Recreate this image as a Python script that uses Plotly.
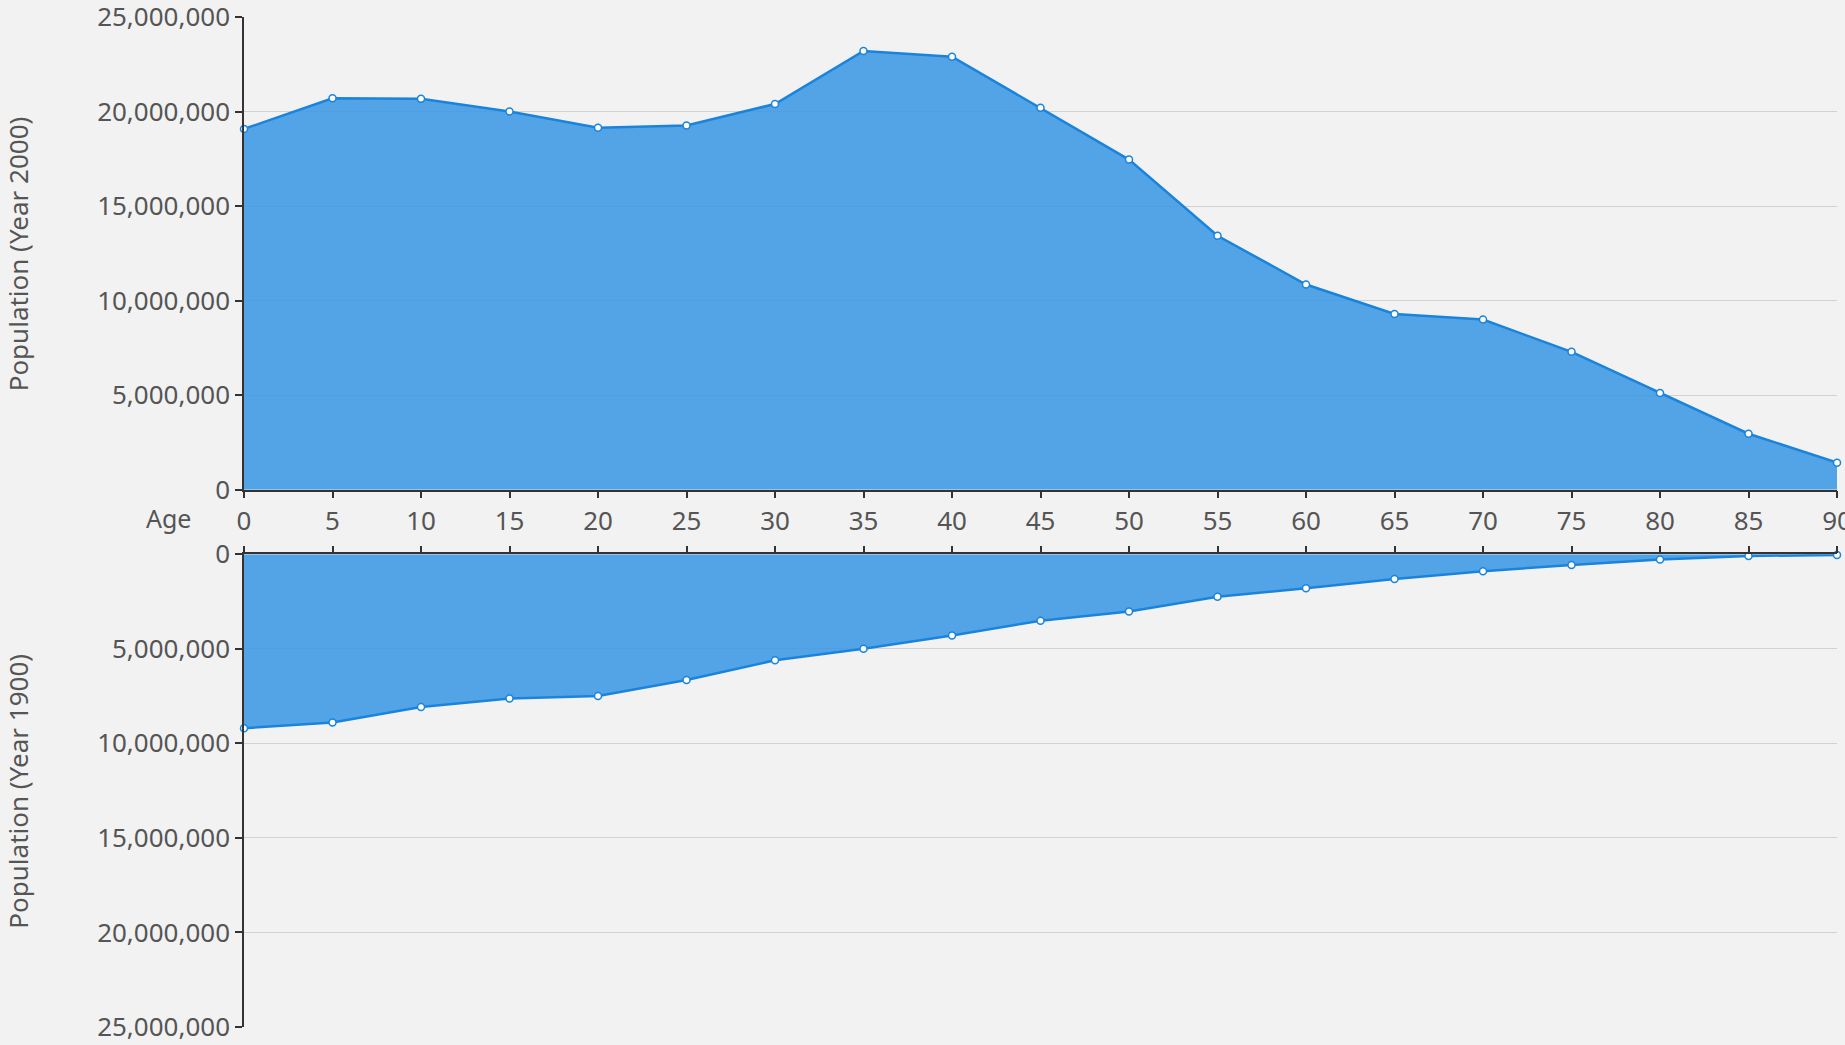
import plotly.graph_objects as go
from plotly.subplots import make_subplots

ages = [0, 5, 10, 15, 20, 25, 30, 35, 40, 45, 50, 55, 60, 65, 70, 75, 80, 85, 90]
pop_2000 = [19080000, 20700000, 20670000, 20000000, 19140000, 19260000, 20400000,
            23200000, 22900000, 20200000, 17460000, 13430000, 10850000, 9290000,
            9000000, 7290000, 5110000, 2960000, 1430000]
pop_1900 = [9200000, 8890000, 8080000, 7620000, 7490000, 6650000, 5600000,
            5000000, 4290000, 3510000, 3020000, 2240000, 1800000, 1310000,
            900000, 560000, 280000, 90000, 30000]
y_ticks = [0, 5000000, 10000000, 15000000, 20000000, 25000000]

FILL = 'rgba(60,152,228,0.88)'
LINE = '#1a84dc'
FONT = 'Noto Sans'
TXT = '#555555'

fig = make_subplots(rows=2, cols=1, shared_xaxes=False, vertical_spacing=0.064,
                    row_heights=[0.5, 0.5])

for row, vals in [(1, pop_2000), (2, pop_1900)]:
    fig.add_trace(go.Scatter(
        x=ages, y=vals,
        mode='lines+markers',
        fill='tozeroy',
        fillcolor=FILL,
        line=dict(color=LINE, width=2.5),
        marker=dict(size=7, color='white', line=dict(color=LINE, width=1.5)),
        showlegend=False,
        cliponaxis=False,
    ), row=row, col=1)

axis_common = dict(
    showline=True, linecolor='#333333', linewidth=1.5,
    ticks='outside', tickcolor='#333333', ticklen=7, tickwidth=1.5,
    tickfont=dict(family=FONT, size=26, color=TXT),
    automargin=False, ticklabeloverflow='allow',
)

fig.update_xaxes(range=[0, 90], tickvals=ages, showgrid=False, zeroline=False,
                 **axis_common)
fig.update_xaxes(side='bottom', row=1, col=1)
fig.update_xaxes(side='top', showticklabels=False, row=2, col=1)

fig.update_yaxes(tickvals=y_ticks, tickformat=',d', showgrid=True,
                 gridcolor='#d2d2d2', gridwidth=1, zeroline=False, **axis_common)
fig.update_yaxes(range=[0, 25000000], row=1, col=1)
fig.update_yaxes(range=[25000000, 0], row=2, col=1)

fig.update_layout(
    width=1845, height=1045,
    margin=dict(l=244, r=8, t=17, b=18, autoexpand=False),
    paper_bgcolor='#f2f2f2',
    plot_bgcolor='#f2f2f2',
    font=dict(family=FONT, color=TXT),
)
fig.update_layout(yaxis=dict(domain=[0.532, 1.0]), yaxis2=dict(domain=[0.0, 0.468]))

pw = 1845 - 244 - 8
for label, yc in [('Population (Year 2000)', 0.766), ('Population (Year 1900)', 0.234)]:
    fig.add_annotation(text=label, textangle=-90, xref='paper', yref='paper',
                       x=-(244 - 18) / pw, y=yc, xanchor='center', yanchor='middle',
                       showarrow=False, font=dict(family=FONT, size=26, color=TXT))
fig.add_annotation(text='Age', xref='paper', yref='paper',
                   x=-(244 - 168) / pw, y=(1045 - 18 - 518) / 1010,
                   xanchor='center', yanchor='middle',
                   showarrow=False, font=dict(family=FONT, size=25, color=TXT))

fig.write_html("out.html", config=dict(displayModeBar=False),
               post_script="document.body.style.margin='0';")
